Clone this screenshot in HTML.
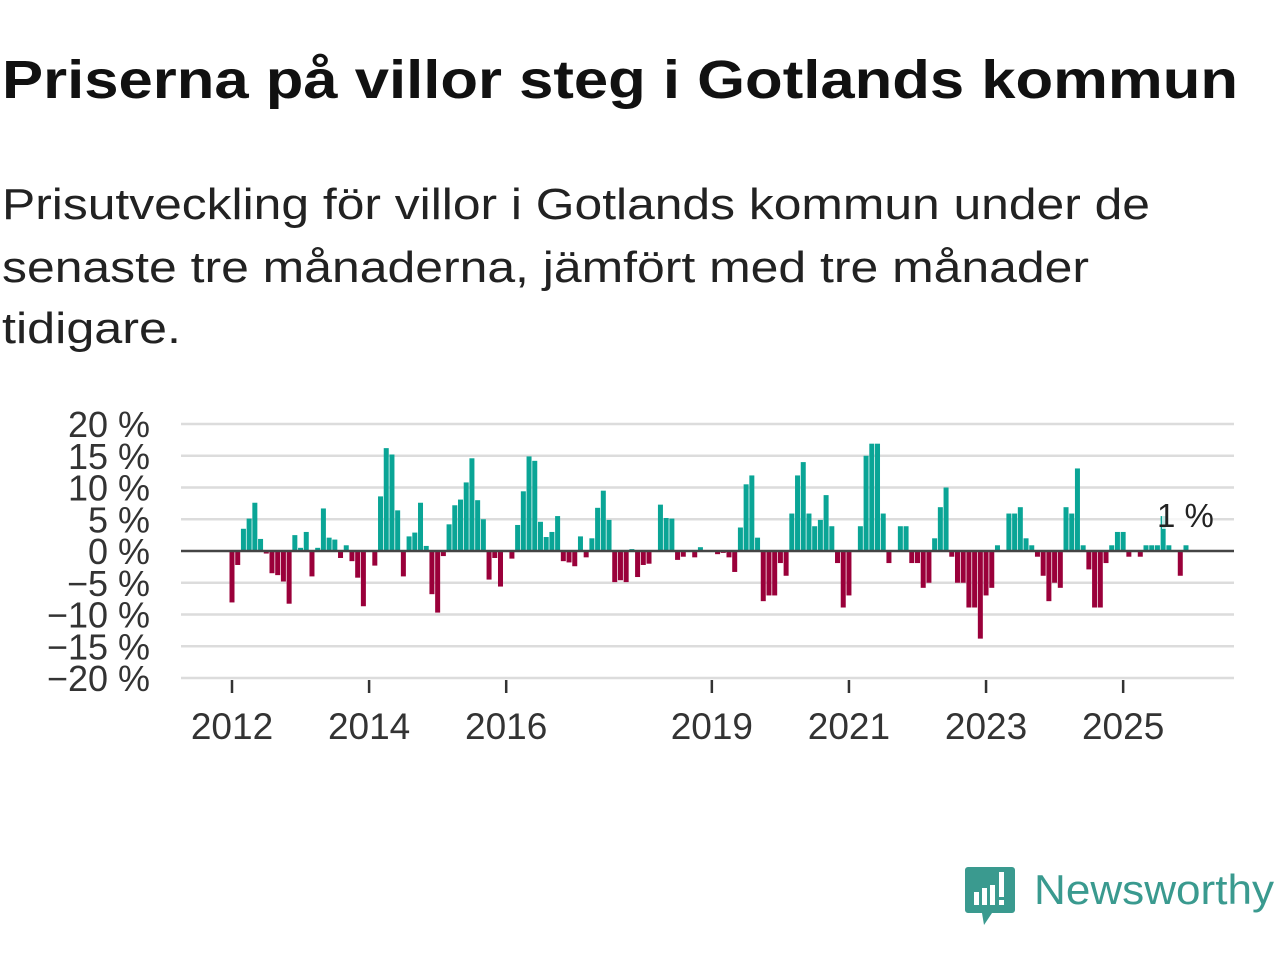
<!DOCTYPE html>
<html><head><meta charset="utf-8"><style>
html,body{margin:0;padding:0;background:#fff;}
svg{display:block;font-family:"Liberation Sans",sans-serif;}
</style></head><body>
<svg id="chart" width="1280" height="960" viewBox="0 0 1280 960" xmlns="http://www.w3.org/2000/svg">
<text x="2" y="98" font-size="54" font-weight="bold" fill="#111" textLength="1236" lengthAdjust="spacingAndGlyphs">Priserna på villor steg i Gotlands kommun</text>
<g font-size="44" fill="#222">
<text x="2" y="219" textLength="1148" lengthAdjust="spacingAndGlyphs">Prisutveckling för villor i Gotlands kommun under de</text>
<text x="2" y="282" textLength="1087" lengthAdjust="spacingAndGlyphs">senaste tre månaderna, jämfört med tre månader</text>
<text x="2" y="343" textLength="179" lengthAdjust="spacingAndGlyphs">tidigare.</text>
</g>
<g id="grid"></g>
<g id="yaxis"></g>
<g id="bars"></g>
<g id="xaxis"></g>
<g id="lbl"></g>
<g>
<path d="M968 867 h44 a3 3 0 0 1 3 3 v40 a3 3 0 0 1 -3 3 h-20 l-8 12 l-2 -12 h-14 a3 3 0 0 1 -3 -3 v-40 a3 3 0 0 1 3 -3z" fill="#3a9a8f"/>
<rect x="974" y="892" width="5" height="13" fill="#fff"/>
<rect x="982" y="888" width="5" height="17" fill="#fff"/>
<rect x="990" y="885" width="5" height="20" fill="#fff"/>
<rect x="999" y="872" width="5" height="25" fill="#fff"/>
<rect x="999" y="900" width="5" height="5" fill="#fff"/>
<text x="1034" y="904" font-size="42" fill="#3a9a8f" textLength="240" lengthAdjust="spacingAndGlyphs">Newsworthy</text>
</g>
</svg>
<script>
const years = [2012,2014,2016,2019,2021,2023,2025];
const yTicks = [20,15,10,5,0,-5,-10,-15,-20];
const startYear = 2012;
const values = [
-8.1,-2.2,3.5,5.1,7.6,1.9,-0.4,-3.5,-3.8,-4.8,-8.3,2.5,
0.5,3.0,-4.0,0.5,6.7,2.1,1.8,-1.1,0.9,-1.6,-4.2,-8.7,
0,-2.3,8.6,16.2,15.2,6.4,-4.0,2.3,2.9,7.6,0.8,-6.8,
-9.7,-0.8,4.2,7.2,8.1,10.8,14.6,8.0,5.0,-4.5,-1.1,-5.6,
0,-1.2,4.1,9.4,14.9,14.2,4.6,2.2,3.0,5.5,-1.6,-1.8,
-2.4,2.3,-1.0,2.0,6.8,9.5,4.9,-4.9,-4.6,-4.9,0.3,-4.1,
-2.2,-2.0,0,7.3,5.2,5.1,-1.4,-0.9,0,-1.0,0.6,0,
0,-0.5,-0.3,-1.0,-3.3,3.7,10.5,11.9,2.1,-7.9,-7.0,-7.0,
-1.9,-3.9,5.9,11.9,14.0,5.9,3.9,4.9,8.8,3.9,-1.9,-8.9,
-7.0,0,3.9,15.0,16.9,16.9,5.9,-1.9,0,3.9,3.9,-1.9,
-1.9,-5.8,-5.0,2.0,6.9,10.0,-0.9,-5.0,-5.0,-8.9,-8.9,-13.8,
-7.0,-5.8,0.9,0,5.9,5.9,6.9,2.0,0.9,-0.9,-3.9,-7.9,
-5.0,-5.8,6.9,5.9,13.0,0.9,-2.9,-8.9,-8.9,-1.9,0.9,3.0,
3.0,-0.9,0,-0.9,0.9,0.9,0.9,5.5,0.9,0,-3.9,0.9
];
const lastLabel = "1 %";
const NS="http://www.w3.org/2000/svg";
const y = v => 551 - v*6.35;
const monthStep = 68.55/12;
const x = i => 232 + i*monthStep;
function mk(tag, attrs, parent){const e=document.createElementNS(NS,tag);for(const k in attrs)e.setAttribute(k,attrs[k]);parent.appendChild(e);return e;}
const grid=document.getElementById('grid'), ya=document.getElementById('yaxis');
yTicks.forEach(t=>{
  if(t!==0){const l=mk('line',{x1:181,x2:1234,y1:y(t),y2:y(t),stroke:'#dcdcdc','stroke-width':2.5},grid);
  
  }
  const tx=mk('text',{x:150,y:y(t)+13,'font-size':36,'text-anchor':'end',fill:'#333'},ya);
  
  
  tx.textContent=(t<0?'\u2212'+(-t):t)+' %';
});
const bars=document.getElementById('bars');
values.forEach((v,i)=>{
  if(v===0)return;
  const r=mk('rect',{x:x(i)-2.5,width:5,y:Math.min(y(v),y(0)),height:Math.abs(y(v)-y(0)),fill:v>0?'#0aa596':'#9a003a'},bars);
  
  
});
const base=mk('line',{x1:181,x2:1234,y1:551,y2:551,stroke:'#444','stroke-width':2.5},bars);


const xa=document.getElementById('xaxis');
years.forEach(yr=>{
  const xi=x((yr-startYear)*12);
  const tk=mk('line',{x1:xi,x2:xi,y1:680,y2:693,stroke:'#333','stroke-width':2.5},xa);
  
  
  const tx=mk('text',{x:xi,y:739,'font-size':37,'text-anchor':'middle',fill:'#333'},xa);
  
  
  tx.textContent=yr;
});
const lg=document.getElementById('lbl');
const bg=mk('rect',{x:1162,y:503,width:50,height:26,fill:'#fff',opacity:0.75},lg);


const lt=mk('text',{x:1157,y:527,'font-size':33,fill:'#222'},lg);


lt.textContent=lastLabel;
</script>
</body></html>
